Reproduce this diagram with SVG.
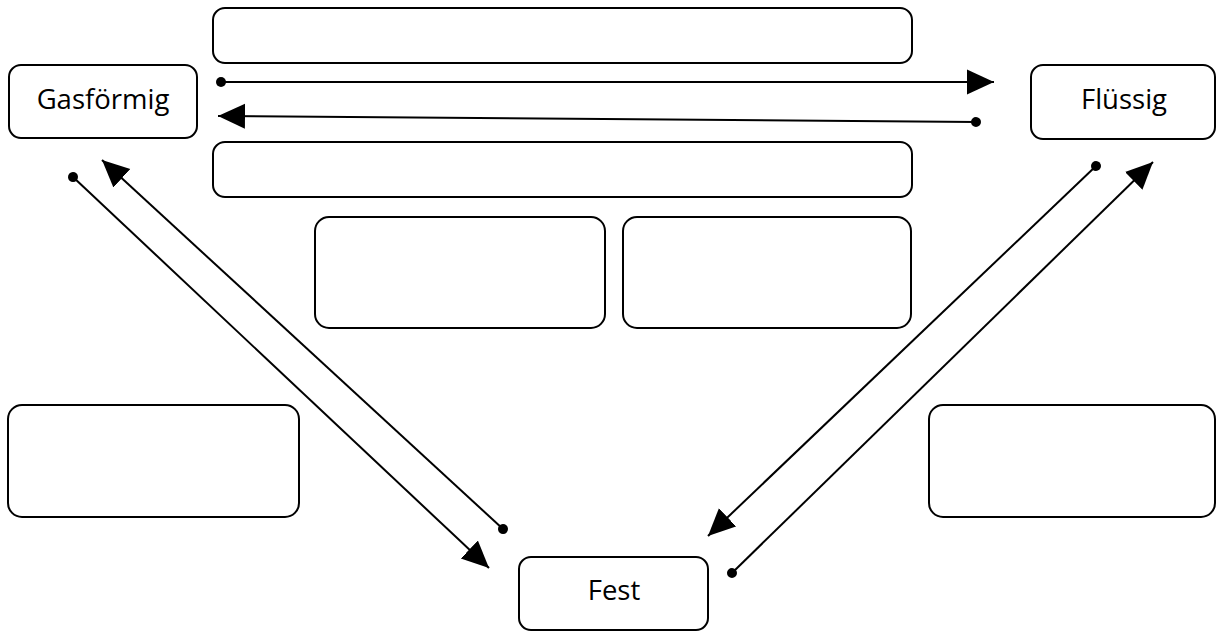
<svg xmlns="http://www.w3.org/2000/svg" width="1216" height="631" viewBox="0 0 1216 631">
<defs>
<style>
.box{fill:#fff;stroke:#000;stroke-width:2}
.lbl{font-family:"Open Sans",sans-serif;font-size:27.5px;fill:#000;text-anchor:middle}
.con{stroke:#000;stroke-width:2;fill:none;marker-start:url(#dot);marker-end:url(#arrow)}
</style>
<marker id="arrow" markerUnits="userSpaceOnUse" markerWidth="28" markerHeight="28" viewBox="0 0 28 26" refX="27" refY="12.5" orient="auto">
<path d="M0,0 L27,12.5 L0,25 z" fill="#000"/>
</marker>
<marker id="dot" markerUnits="userSpaceOnUse" markerWidth="12" markerHeight="12" viewBox="0 0 12 12" refX="6" refY="6" orient="auto">
<circle cx="6" cy="6" r="5" fill="#000"/>
</marker>
</defs>
<rect width="1216" height="631" fill="#fff"/>
<g id="gas"><rect class="box" x="9" y="65" width="188" height="73" rx="12"/><text class="lbl" x="103" y="109">Gasförmig</text></g>
<g id="fluessig"><rect class="box" x="1031" y="65" width="184" height="74" rx="12"/><text class="lbl" x="1124" y="109">Flüssig</text></g>
<g id="fest"><rect class="box" x="519" y="557" width="189" height="73" rx="12"/><text class="lbl" x="614" y="600">Fest</text></g>
<g id="box-top1"><rect class="box" x="213" y="8" width="699" height="55" rx="12"/></g>
<g id="box-top2"><rect class="box" x="213" y="142" width="699" height="55" rx="12"/></g>
<g id="box-mid1"><rect class="box" x="315" y="217" width="290" height="111" rx="14"/></g>
<g id="box-mid2"><rect class="box" x="623" y="217" width="288" height="111" rx="14"/></g>
<g id="box-left"><rect class="box" x="8" y="405" width="291" height="112" rx="14"/></g>
<g id="box-right"><rect class="box" x="929" y="405" width="286" height="112" rx="14"/></g>
<g id="connectors">
<path class="con" d="M221,82 L994,82"/>
<path class="con" d="M976,122 L218,116"/>
<path class="con" d="M73,177 L489,568"/>
<path class="con" d="M503,529 L102,160"/>
<path class="con" d="M1096,166 L708,536"/>
<path class="con" d="M732,573 L1153,162"/>
</g>
</svg>
